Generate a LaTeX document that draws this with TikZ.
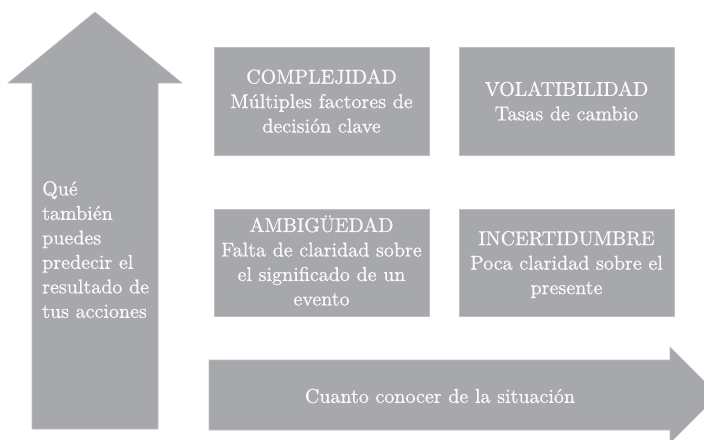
\documentclass[tikz,border=0pt]{standalone}
\usepackage{fontspec}
\setmainfont{lmroman10-regular.otf}[FakeBold=0.8]
\definecolor{shapegray}{HTML}{A7A8AB}
\definecolor{edgegray}{HTML}{BDBEC0}
\definecolor{textwhite}{HTML}{FAFAFA}
\tikzset{
  grayfill/.style={fill=shapegray, draw=edgegray, line width=0.6pt},
  boxnode/.style={fill=shapegray, draw=edgegray, line width=0.6pt,
    minimum width=215pt, minimum height=108pt, inner sep=0pt,
    text=textwhite, align=center, font=\fontsize{20}{24.5}\selectfont},
  boxtext/.style={text=textwhite, inner sep=0pt, align=center, font=\fontsize{20}{24.5}\selectfont},
  arrowtext/.style={text=textwhite, inner sep=0pt, font=\fontsize{20}{24.5}\selectfont},
}
\begin{document}
\begin{tikzpicture}[x=1pt,y=-1pt]
\useasboundingbox (0,0) rectangle (704,439);
\clip (0,0) rectangle (704,439);
% vertical arrow
\path[grayfill] (95,12) -- (182,83) -- (158,83) -- (158,429) -- (32,429) -- (32,83) -- (8,83) -- cycle;
% horizontal arrow
\path[grayfill] (209,360) -- (670,360) -- (670,347) -- (718,395) -- (670,443) -- (670,430) -- (209,430) -- cycle;
% boxes
\node[boxnode] (compl) at (321.5,101) {COMPLEJIDAD\\Múltiples factores de\\decisión clave};
\node[boxnode] (volat) at (566.5,101) {VOLATIBILIDAD\\Tasas de cambio};
\node[boxnode, minimum height=107pt] (ambig) at (321.5,262.5) {};
\node[boxtext] (ambigtext) at (321.5,260.5) {AMBIGÜEDAD\\Falta de claridad sobre\\el significado de un\\evento};
\node[boxnode, minimum height=107pt] (incert) at (566.5,262.5) {};
\node[boxtext] (incerttext) at (566.5,264.5) {INCERTIDUMBRE\\Poca claridad sobre el\\presente};
% arrow texts
\node[arrowtext, align=left, anchor=north west] (uptext) at (42,181) {Qué\\también\\puedes\\predecir el\\resultado de\\tus acciones};
\node[arrowtext] (righttext) at (440,396) {Cuanto conocer de la situación};
\end{tikzpicture}
\end{document}
